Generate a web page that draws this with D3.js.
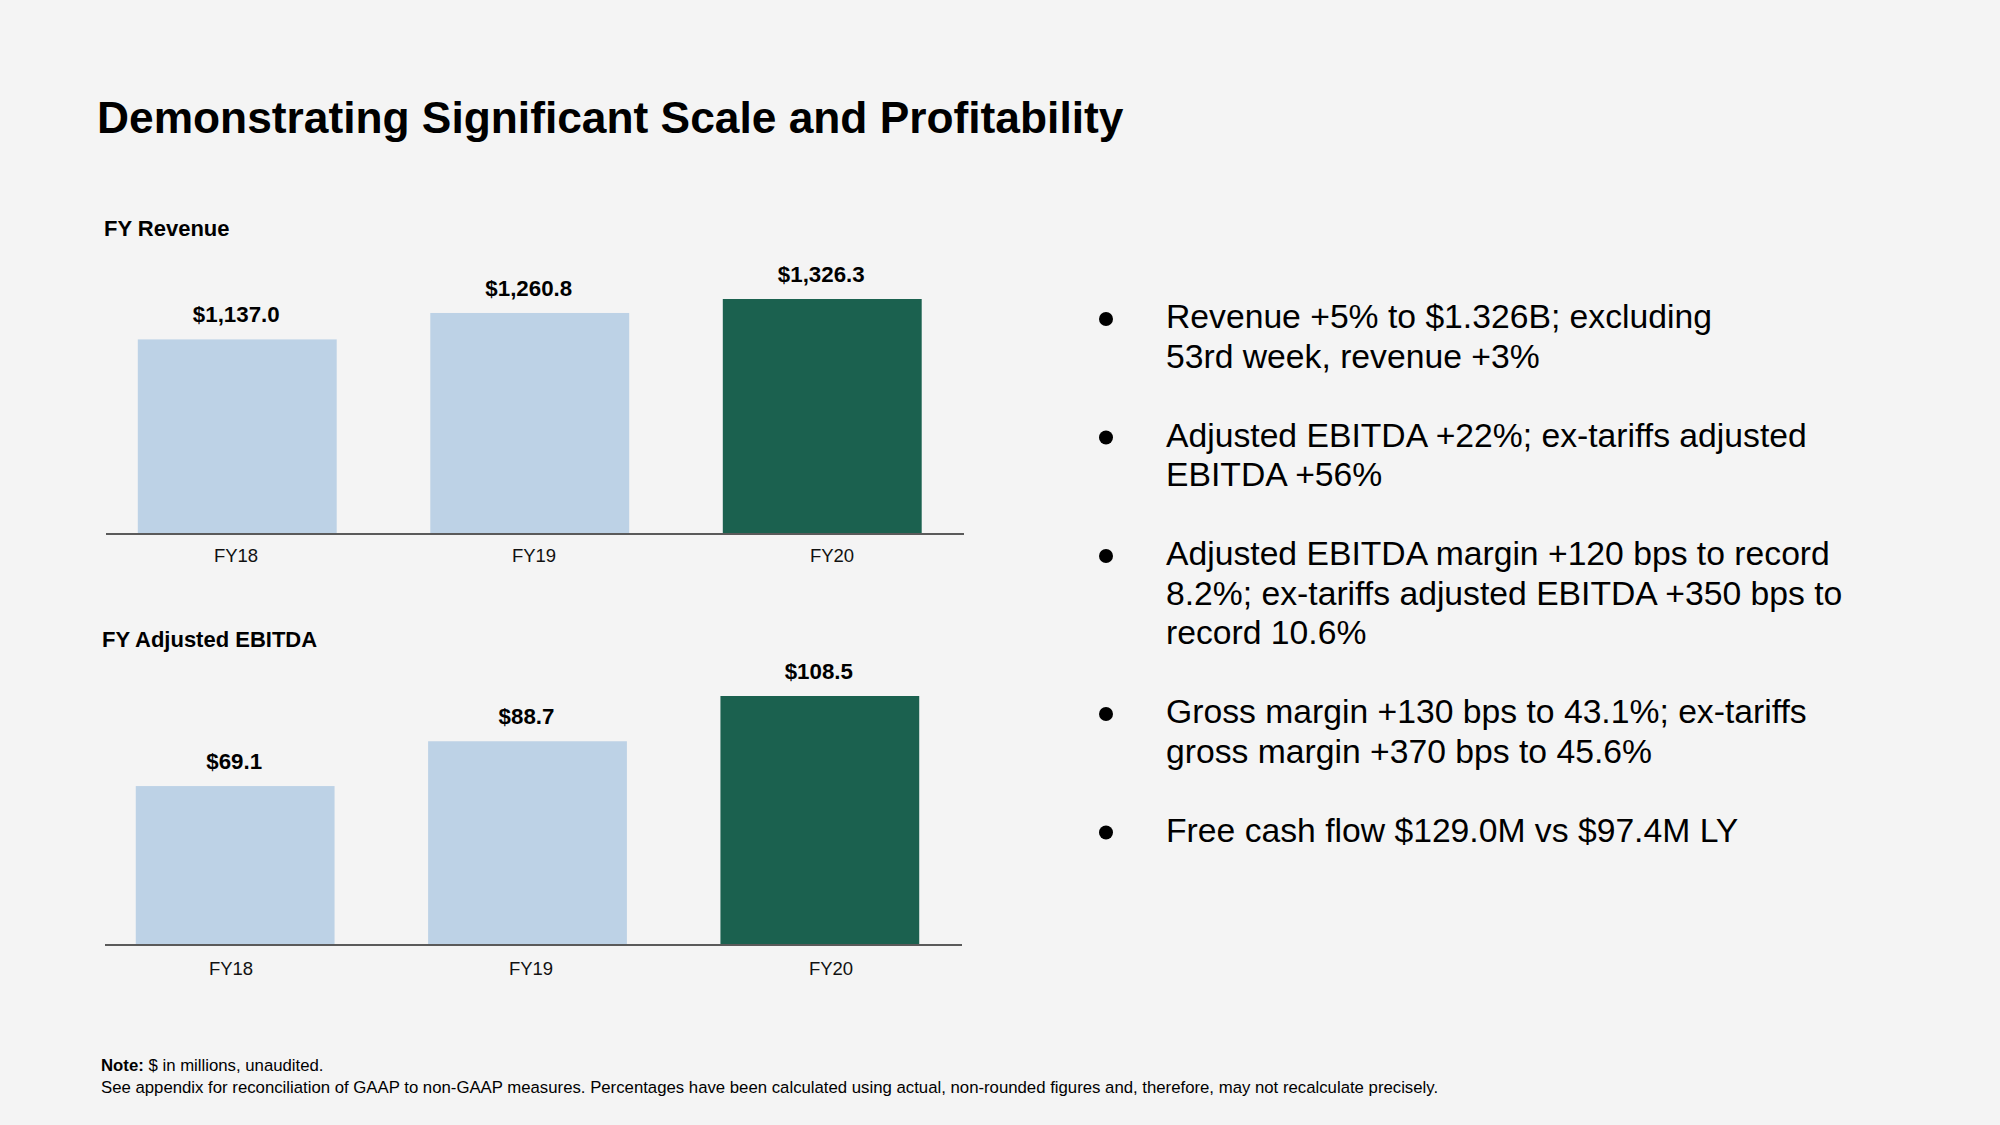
<!DOCTYPE html>
<html>
<head>
<meta charset="utf-8">
<script src="https://cdn.jsdelivr.net/npm/d3@7"></script>
<style>
  html, body { margin: 0; padding: 0; background: #f4f4f4; }
  svg { display: block; font-family: "Liberation Sans", Arial, Helvetica, sans-serif; }
</style>
</head>
<body>
<svg id="chart" width="2000" height="1125"></svg>
<script>
// ---- data ----
const years = ["FY18", "FY19", "FY20"];
const revenue = [1137.0, 1260.8, 1326.3];
const revenueLabels = ["$1,137.0", "$1,260.8", "$1,326.3"];
const ebitda = [69.1, 88.7, 108.5];
const ebitdaLabels = ["$69.1", "$88.7", "$108.5"];
const highlightYear = "FY20";
const titleText = "Demonstrating Significant Scale and Profitability";
const revenueTitle = "FY Revenue";
const ebitdaTitle = "FY Adjusted EBITDA";
const bullets = [
  ["Revenue +5% to $1.326B; excluding", "53rd week, revenue +3%"],
  ["Adjusted EBITDA +22%; ex-tariffs adjusted", "EBITDA +56%"],
  ["Adjusted EBITDA margin +120 bps to record", "8.2%; ex-tariffs adjusted EBITDA +350 bps to", "record 10.6%"],
  ["Gross margin +130 bps to 43.1%; ex-tariffs", "gross margin +370 bps to 45.6%"],
  ["Free cash flow $129.0M vs $97.4M LY"]
];
const noteBold = "Note:";
const noteRest = " $ in millions, unaudited.";
const noteLine2 = "See appendix for reconciliation of GAAP to non-GAAP measures. Percentages have been calculated using actual, non-rounded figures and, therefore, may not recalculate precisely.";

// ---- styles ----
const LIGHT = "#bdd2e6";
const DARK = "#1b614f";
const AXIS = "#5a5a5a";

const svg = d3.select("#chart");
svg.append("rect").attr("width", 2000).attr("height", 1125).attr("fill", "#f4f4f4");

svg.append("text")
  .attr("x", 97).attr("y", 133)
  .attr("font-size", 44.3).attr("font-weight", "bold").attr("fill", "#000")
  .text(titleText);

function barPanel(cfg) {
  const g = svg.append("g");
  const x = d3.scaleBand().domain(years).range(cfg.xRange).paddingInner(0.32).paddingOuter(0.16);
  const xl = d3.scaleBand().domain(years).range(cfg.labelRange);
  const y = d3.scaleLinear().domain(cfg.yDomain).range([cfg.base, cfg.top]);

  g.append("text").attr("x", cfg.titleX).attr("y", cfg.titleY)
    .attr("font-size", 22).attr("font-weight", "bold").attr("fill", "#000")
    .text(cfg.title);

  g.selectAll("rect.bar").data(cfg.values).join("rect")
    .attr("class", "bar")
    .attr("x", (d, i) => x(years[i]))
    .attr("width", x.bandwidth())
    .attr("y", d => y(d))
    .attr("height", d => cfg.base - y(d))
    .attr("fill", (d, i) => years[i] === highlightYear ? DARK : LIGHT);

  g.selectAll("text.val").data(cfg.values).join("text")
    .attr("class", "val")
    .attr("x", (d, i) => x(years[i]) + x.bandwidth() / 2 - 1)
    .attr("y", d => y(d) - 17)
    .attr("text-anchor", "middle")
    .attr("font-size", 22.3).attr("font-weight", "bold").attr("fill", "#000")
    .text((d, i) => cfg.labels[i]);

  // baseline
  g.append("line")
    .attr("x1", cfg.axisX[0]).attr("x2", cfg.axisX[1])
    .attr("y1", cfg.base + 1).attr("y2", cfg.base + 1)
    .attr("stroke", AXIS).attr("stroke-width", 2);

  const ax = g.append("g").attr("transform", `translate(0,${cfg.base})`)
    .call(d3.axisBottom(xl).tickSize(0).tickPadding(0));
  ax.select(".domain").remove();
  ax.selectAll("text")
    .attr("y", cfg.labelY - cfg.base)
    .attr("dy", 0)
    .attr("font-size", 18.5)
    .attr("font-family", "'Liberation Sans', Arial, Helvetica, sans-serif")
    .attr("fill", "#111");
}

barPanel({
  title: revenueTitle, titleX: 104, titleY: 236,
  values: revenue, labels: revenueLabels,
  xRange: [91, 968.5], labelRange: [87, 981],
  yDomain: [230, 1326.3], base: 533, top: 299,
  axisX: [106, 964], labelY: 562
});

barPanel({
  title: ebitdaTitle, titleX: 102, titleY: 647,
  values: ebitda, labels: ebitdaLabels,
  xRange: [89, 966], labelRange: [81, 981],
  yDomain: [0, 108.5], base: 944, top: 696,
  axisX: [105, 962], labelY: 975
});

// ---- bullets ----
const lineH = 39.5;
let lineIdx = 0;
const bg = svg.append("g");
bullets.forEach(lines => {
  const y0 = 328 + lineIdx * lineH;
  bg.append("circle").attr("cx", 1106).attr("cy", y0 - 9).attr("r", 7).attr("fill", "#000");
  lines.forEach((t, j) => {
    bg.append("text")
      .attr("x", 1166).attr("y", y0 + j * lineH)
      .attr("font-size", 33.7).attr("fill", "#000")
      .text(t);
  });
  lineIdx += lines.length + 1;
});

// ---- footnote ----
const n1 = svg.append("text").attr("x", 101).attr("y", 1071).attr("font-size", 16.75).attr("fill", "#000");
n1.append("tspan").attr("font-weight", "bold").text(noteBold);
n1.append("tspan").text(noteRest);
svg.append("text").attr("x", 101).attr("y", 1093).attr("font-size", 16.75).attr("fill", "#000").text(noteLine2);
</script>
</body>
</html>
